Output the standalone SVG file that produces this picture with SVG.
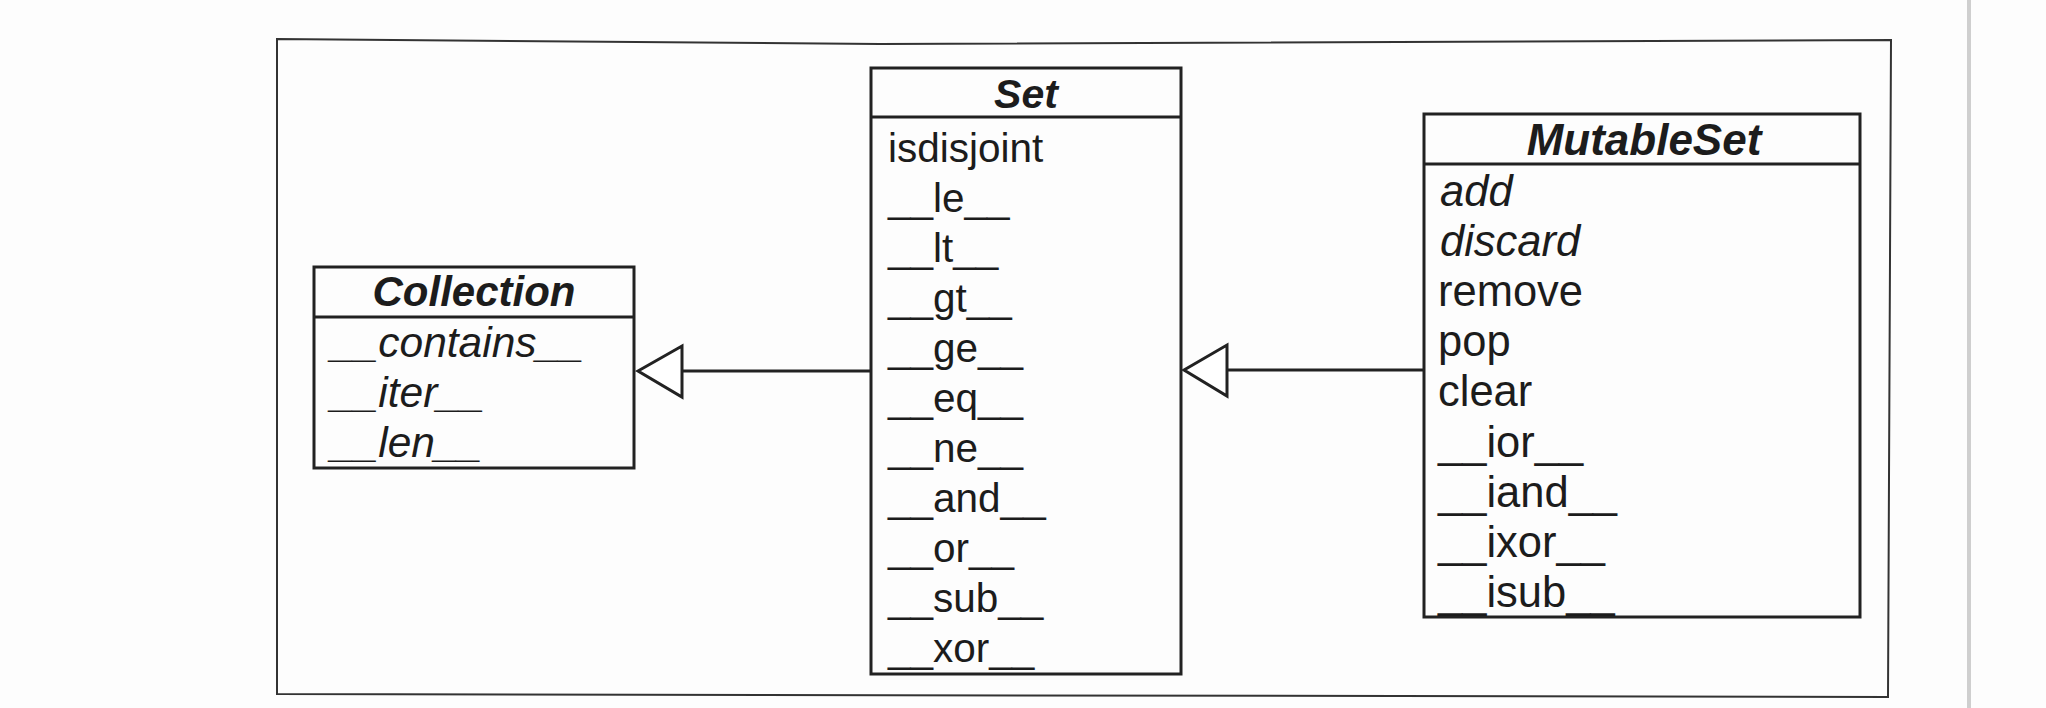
<svg xmlns="http://www.w3.org/2000/svg" width="2046" height="708" viewBox="0 0 2046 708">
  <style>
    .box { fill: none; stroke: #222; stroke-width: 3; }
    .sep { stroke: #222; stroke-width: 3; }
    .t { font-family: "Liberation Sans", Arial, sans-serif; fill: #1c1c1c; }
    .title { font-weight: bold; font-style: italic; text-anchor: middle; }
    .it { font-style: italic; }
    .conn { stroke: #222; stroke-width: 3; fill: none; }
    .head { fill: #fff; stroke: #222; stroke-width: 3; stroke-linejoin: miter; }
  </style>
  <rect x="0" y="0" width="2046" height="708" fill="#fdfdfd"/>
  <rect x="1967" y="0" width="4" height="708" fill="#cfcfcf"/>
  <path d="M277,39 L880,44 L1891,40 L1888,697 L277,694 Z" fill="none" stroke="#333" stroke-width="2"/>

  <g id="connectors">
    <line class="conn" x1="871" y1="371" x2="682" y2="371"/>
    <polygon class="head" points="638,371 682,346 682,397"/>
    <line class="conn" x1="1424" y1="370" x2="1227" y2="370"/>
    <polygon class="head" points="1184,370 1227,345 1227,396"/>
  </g>

  <g id="collection">
    <rect class="box" x="314" y="267" width="320" height="201"/>
    <line class="sep" x1="314" y1="317" x2="634" y2="317"/>
    <text class="t title" x="474" y="306" font-size="42">Collection</text>
    <g class="t it" font-size="42.5">
      <text x="331" y="357">__contains__</text>
      <text x="331" y="407">__iter__</text>
      <text x="331" y="457">__len__</text>
    </g>
  </g>

  <g id="set">
    <rect class="box" x="871" y="68" width="310" height="606"/>
    <line class="sep" x1="871" y1="117" x2="1181" y2="117"/>
    <text class="t title" x="1026" y="108" font-size="41">Set</text>
    <g class="t" font-size="40.5">
      <text x="888" y="162">isdisjoint</text>
      <text x="888" y="212">__le__</text>
      <text x="888" y="262">__lt__</text>
      <text x="888" y="312">__gt__</text>
      <text x="888" y="362">__ge__</text>
      <text x="888" y="412">__eq__</text>
      <text x="888" y="462">__ne__</text>
      <text x="888" y="512">__and__</text>
      <text x="888" y="562">__or__</text>
      <text x="888" y="612">__sub__</text>
      <text x="888" y="662">__xor__</text>
    </g>
  </g>

  <g id="mutableset">
    <rect class="box" x="1424" y="114" width="436" height="503"/>
    <line class="sep" x1="1424" y1="164" x2="1860" y2="164"/>
    <text class="t title" x="1644" y="155" font-size="44">MutableSet</text>
    <g class="t" font-size="43.5">
      <text class="it" x="1440" y="206">add</text>
      <text class="it" x="1440" y="256">discard</text>
      <text x="1438" y="306">remove</text>
      <text x="1438" y="356">pop</text>
      <text x="1438" y="406">clear</text>
      <text x="1438" y="457">__ior__</text>
      <text x="1438" y="507">__iand__</text>
      <text x="1438" y="557">__ixor__</text>
      <text x="1438" y="607">__isub__</text>
    </g>
  </g>
</svg>
